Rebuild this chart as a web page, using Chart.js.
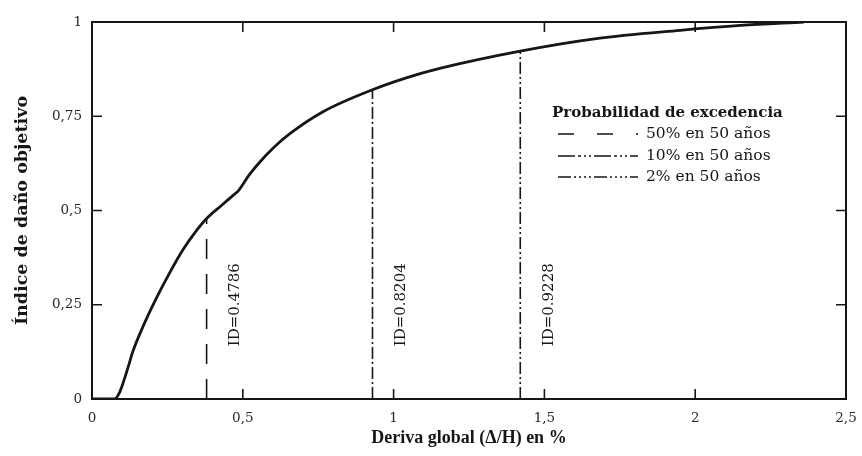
<!DOCTYPE html>
<html>
<head>
<meta charset="utf-8">
<script src="https://cdn.jsdelivr.net/npm/chart.js@4.4.1/dist/chart.umd.min.js"></script>
<style>
  html, body { margin: 0; padding: 0; background: #fff; }
  #wrap { width: 862px; height: 456px; }
</style>
</head>
<body>
<div id="wrap"><canvas id="c"></canvas></div>
<script>
// Curva deriva global (%) – índice de daño objetivo
const driftPct    = [0, 0.075, 0.09, 0.102, 0.12, 0.135, 0.169, 0.213, 0.257, 0.301, 0.34, 0.38, 0.43, 0.475, 0.485, 0.495, 0.52, 0.556, 0.6, 0.655, 0.766, 0.93, 1.042, 1.153, 1.42, 1.672, 1.95, 2.15, 2.36];
const damageIndex = [0, 0, 0.015, 0.04, 0.085, 0.125, 0.192, 0.267, 0.334, 0.395, 0.44, 0.4786, 0.514, 0.545, 0.552, 0.563, 0.593, 0.628, 0.665, 0.703, 0.762, 0.8204, 0.852, 0.877, 0.9228, 0.956, 0.978, 0.991, 1.0];

// Niveles de amenaza: deriva y daño asociados
const hazardLabels = ['50% en 50 años', '10% en 50 años', '2% en 50 años'];
const hazardDrift  = [0.38, 0.93, 1.42];
const hazardDamage = [0.4786, 0.8204, 0.9228];
const idLabels     = ['ID=0.4786', 'ID=0.8204', 'ID=0.9228'];

const xTickLabels = ['0', '0,5', '1', '1,5', '2', '2,5'];
const yTickLabels = ['0', '0,25', '0,5', '0,75', '1'];

const legendTitle = 'Probabilidad de excedencia';

// Estilos de línea de cada nivel (vertical y muestra de leyenda)
const hazardDash = [[20, 15], [12, 3, 2, 3], [12, 3, 2, 3, 2, 3]];
const legendDash = [[16, 23], [17, 3, 3, 3, 2, 3, 2, 3], [13, 3, 2, 3, 2, 3, 2, 3, 2, 3]];

const ink = '#161616';

const curvePoints = driftPct.map((x, i) => ({ x, y: damageIndex[i] }));
const hazardSets = hazardDrift.map((x, i) => ({
  label: hazardLabels[i],
  data: [{ x, y: 0 }, { x, y: hazardDamage[i] }],
  borderColor: ink,
  borderWidth: 1.6,
  borderDash: hazardDash[i],
  pointRadius: 0,
  fill: false
}));

// Marco completo con marcas de división hacia dentro
const framePlugin = {
  id: 'frame',
  afterDatasetsDraw(chart) {
    const { ctx, chartArea: a, scales: { x, y } } = chart;
    ctx.save();
    ctx.strokeStyle = ink;
    ctx.lineWidth = 2;
    ctx.setLineDash([]);
    ctx.strokeRect(a.left, a.top, a.right - a.left, a.bottom - a.top);
    const len = 10;
    ctx.lineWidth = 1.6;
    ctx.beginPath();
    x.ticks.forEach(t => {
      const px = x.getPixelForValue(t.value);
      if (px <= a.left + 1 || px >= a.right - 1) return;
      ctx.moveTo(px, a.bottom); ctx.lineTo(px, a.bottom - len);
      ctx.moveTo(px, a.top); ctx.lineTo(px, a.top + len);
    });
    y.ticks.forEach(t => {
      const py = y.getPixelForValue(t.value);
      if (py <= a.top + 1 || py >= a.bottom - 1) return;
      ctx.moveTo(a.left, py); ctx.lineTo(a.left + len, py);
      ctx.moveTo(a.right, py); ctx.lineTo(a.right - len, py);
    });
    ctx.stroke();
    ctx.restore();
  }
};

// Rótulos verticales ID=… junto a cada línea
const idPlugin = {
  id: 'idText',
  afterDatasetsDraw(chart) {
    const { ctx, scales: { x, y } } = chart;
    ctx.save();
    ctx.fillStyle = ink;
    ctx.font = '15px "DejaVu Serif"';
    ctx.textAlign = 'center';
    ctx.textBaseline = 'middle';
    hazardDrift.forEach((d, i) => {
      ctx.save();
      ctx.translate(x.getPixelForValue(d) + 29, y.getPixelForValue(0.25));
      ctx.rotate(-Math.PI / 2);
      ctx.fillText(idLabels[i], 0, 0);
      ctx.restore();
    });
    ctx.restore();
  }
};

// Leyenda dentro del área de trazado
const legendPlugin = {
  id: 'hazardLegend',
  afterDatasetsDraw(chart) {
    const { ctx, chartArea: a } = chart;
    const left = a.right - 294;
    const top = a.top + 91;
    ctx.save();
    ctx.fillStyle = ink;
    ctx.textBaseline = 'middle';
    ctx.textAlign = 'left';
    ctx.font = 'bold 15px "DejaVu Serif"';
    ctx.fillText(legendTitle, left, top);
    ctx.font = '15.5px "DejaVu Serif"';
    const rowY = [top + 21, top + 43, top + 64];
    hazardLabels.forEach((lab, i) => {
      ctx.strokeStyle = ink;
      ctx.lineWidth = 1.6;
      ctx.setLineDash(legendDash[i]);
      ctx.beginPath();
      ctx.moveTo(left + 6, rowY[i]);
      ctx.lineTo(left + 86, rowY[i]);
      ctx.stroke();
      ctx.setLineDash([]);
      ctx.fillText(lab, left + 94, rowY[i]);
    });
    ctx.restore();
  }
};

new Chart(document.getElementById('c'), {
  type: 'line',
  data: {
    datasets: [
      {
        label: 'Índice de daño',
        data: curvePoints,
        borderColor: ink,
        borderWidth: 2.8,
        pointRadius: 0,
        cubicInterpolationMode: 'monotone',
        fill: false
      },
      ...hazardSets
    ]
  },
  options: {
    responsive: true,
    maintainAspectRatio: false,
    animation: false,
    layout: { padding: { top: 22, right: 16, left: 0, bottom: 0 } },
    plugins: { legend: { display: false }, tooltip: { enabled: false } },
    scales: {
      x: {
        type: 'linear',
        min: 0, max: 2.5,
        afterFit(s) { s.height = 57; s.paddingLeft = 0; s.paddingRight = 0; },
        grid: { display: false, drawTicks: false },
        border: { display: false },
        ticks: {
          stepSize: 0.5,
          padding: 11,
          color: '#2a2a2a',
          font: { family: '"DejaVu Serif"', size: 13.5 },
          callback: (v, i) => xTickLabels[i]
        },
        title: {
          display: true,
          text: 'Deriva global (Δ/H) en %',
          color: ink,
          font: { family: '"Liberation Serif"', size: 18, weight: 'bold' },
          padding: { top: 0, bottom: 7 }
        }
      },
      y: {
        type: 'linear',
        min: 0, max: 1,
        afterFit(s) { s.width = 92; s.paddingTop = 0; s.paddingBottom = 0; },
        grid: { display: false, drawTicks: false },
        border: { display: false },
        ticks: {
          stepSize: 0.25,
          padding: 10,
          color: '#2a2a2a',
          font: { family: '"DejaVu Serif"', size: 13.5 },
          callback: (v, i) => yTickLabels[i]
        },
        title: {
          display: true,
          text: 'Índice de daño objetivo',
          color: ink,
          font: { family: '"DejaVu Serif"', size: 17.5, weight: 'bold' },
          padding: { top: 12, bottom: 0 }
        }
      }
    }
  },
  plugins: [framePlugin, idPlugin, legendPlugin]
});
</script>
</body>
</html>
